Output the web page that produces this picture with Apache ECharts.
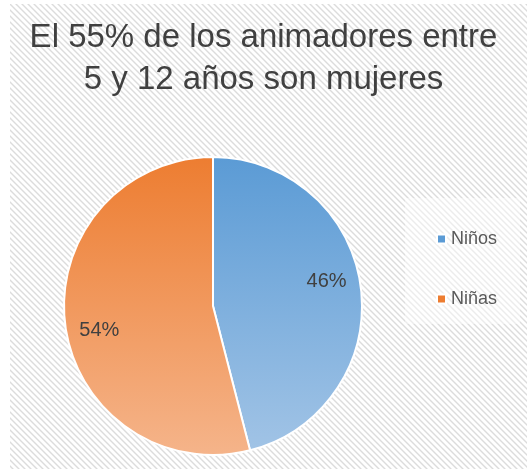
<!DOCTYPE html>
<html>
<head>
<meta charset="utf-8">
<script src="https://cdn.jsdelivr.net/npm/echarts@6/dist/echarts.min.js"></script>
<style>
  html, body { margin: 0; padding: 0; background: #fff; }
  #chart { width: 527px; height: 469px; }
</style>
</head>
<body>
<div id="chart"></div>
<script>
const titleText = 'El 55% de los animadores entre\n5 y 12 años son mujeres';
const categories = ['Niños', 'Niñas'];
const values = [46, 54];
const topColors = ['#5b9bd5', '#ed7d31'];
const bottomColors = ['#a2c4e6', '#f5b48a'];

const chart = echarts.init(document.getElementById('chart'));

// diagonal hatch used as the chart background
const hatch = document.createElement('canvas');
hatch.width = 6;
hatch.height = 6;
const hctx = hatch.getContext('2d');
hctx.fillStyle = '#ffffff';
hctx.fillRect(0, 0, 6, 6);
hctx.strokeStyle = '#dcdcdc';
hctx.lineWidth = 1.4;
hctx.beginPath();
hctx.moveTo(-1, -1); hctx.lineTo(7, 7);
hctx.moveTo(-1, 5); hctx.lineTo(1, 7);
hctx.moveTo(5, -1); hctx.lineTo(7, 1);
hctx.stroke();

const center = [213, 306];
const radius = 149;

const pieData = categories.map((name, i) => ({
  name,
  value: values[i],
  itemStyle: {
    color: new echarts.graphic.LinearGradient(0, center[1] - radius, 0, center[1] + radius, [
      { offset: 0, color: topColors[i] },
      { offset: 1, color: bottomColors[i] }
    ], true)
  }
}));

const option = {
  animation: false,
  backgroundColor: '#ffffff',
  title: {
    text: titleText,
    left: 'center',
    top: 12,
    textStyle: {
      fontFamily: 'Liberation Sans',
      fontSize: 33,
      fontWeight: 'normal',
      color: '#404040',
      lineHeight: 42
    }
  },
  graphic: [
    {
      type: 'rect',
      z: -10,
      shape: { x: 10, y: 4, width: 517, height: 465 },
      style: { fill: { image: hatch, repeat: 'repeat' } }
    },
    {
      type: 'rect',
      z: -9,
      shape: { x: 405, y: 198, width: 115, height: 126 },
      style: { fill: 'rgba(255,255,255,0.45)' }
    }
  ],
  legend: {
    orient: 'vertical',
    left: 431,
    top: 225,
    itemWidth: 9,
    itemHeight: 9,
    itemGap: 42,
    icon: 'rect',
    data: categories,
    textStyle: {
      fontFamily: 'Liberation Sans',
      fontSize: 18,
      color: '#595959'
    }
  },
  series: [
    {
      type: 'pie',
      center: center,
      radius: radius,
      startAngle: 90,
      clockwise: true,
      silent: true,
      data: pieData,
      itemStyle: { borderColor: '#ffffff', borderWidth: 2 },
      label: { show: false },
      labelLine: { show: false }
    },
    {
      // label carrier: places the percentages at ~3/4 of the radius
      type: 'pie',
      center: center,
      radius: [radius * 0.52, radius],
      startAngle: 95,
      clockwise: true,
      silent: true,
      data: categories.map((name, i) => ({ name, value: values[i] })),
      itemStyle: { color: 'rgba(0,0,0,0)' },
      label: {
        show: true,
        position: 'inside',
        formatter: '{d}%',
        fontFamily: 'Liberation Sans',
        fontSize: 20,
        color: '#404040'
      },
      labelLine: { show: false }
    }
  ]
};

chart.setOption(option);
</script>
</body>
</html>
